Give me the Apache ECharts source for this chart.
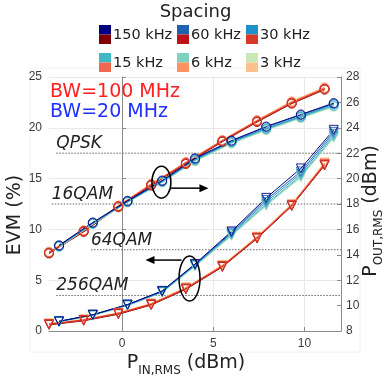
<!DOCTYPE html>
<html><head><meta charset="utf-8">
<script src="https://cdn.jsdelivr.net/npm/echarts@6/dist/echarts.min.js"></script>
<style>html,body{margin:0;padding:0;background:#fff}#c{width:383px;height:377px}</style>
</head><body><div id="c"></div>
<script>
// ---------- data ----------
const spacings = ['150 kHz', '60 kHz', '30 kHz', '15 kHz', '6 kHz', '3 kHz'];
const colors20 = ['#000080', '#2060B0', '#2090C8', '#40B8C8', '#80D0C0', '#C8E8B8'];
const colors100 = ['#7F0000', '#C01018', '#D83828', '#F06850', '#FF9060', '#FFC090'];
const xTicks = [0, 5, 10];

// input power (dBm) of each measured point
const pin100 = [-4.0, -2.1, -0.2, 1.6, 3.5, 5.5, 7.4, 9.3, 11.1];
const pin20 = [-3.45, -1.6, 0.3, 2.2, 4.0, 6.0, 7.9, 9.8, 11.6];

// output power (dBm), BW = 20 MHz, one row per spacing
const pout20_150 = [14.75, 16.55, 18.25, 19.85, 21.6, 23.0, 24.1, 25.05, 25.95];
const pout20_60 = [14.7, 16.5, 18.2, 19.8, 21.55, 22.95, 24.05, 25.0, 25.9];
const pout20_30 = [14.7, 16.5, 18.2, 19.8, 21.5, 22.9, 23.95, 24.9, 25.85];
const pout20_15 = [14.65, 16.45, 18.15, 19.75, 21.45, 22.85, 23.9, 24.85, 25.75];
const pout20_6 = [14.65, 16.45, 18.15, 19.7, 21.4, 22.8, 23.85, 24.8, 25.7];
const pout20_3 = [14.6, 16.4, 18.1, 19.7, 21.35, 22.75, 23.8, 24.75, 25.65];

// output power (dBm), BW = 100 MHz
const pout100_150 = [14.1, 15.8, 17.75, 19.45, 21.15, 22.9, 24.45, 25.9, 27.0];
const pout100_60 = [14.15, 15.85, 17.8, 19.5, 21.2, 22.95, 24.5, 25.95, 27.05];
const pout100_30 = [14.15, 15.85, 17.8, 19.5, 21.2, 22.95, 24.5, 25.95, 27.05];
const pout100_15 = [14.2, 15.9, 17.85, 19.55, 21.25, 23.0, 24.55, 26.0, 27.1];
const pout100_6 = [14.2, 15.9, 17.85, 19.55, 21.3, 23.0, 24.6, 26.05, 27.15];
const pout100_3 = [14.25, 15.95, 17.9, 19.6, 21.3, 23.05, 24.6, 26.1, 27.2];

// EVM (%), BW = 20 MHz
const evm20_150 = [0.95, 1.6, 2.6, 3.95, 6.6, 9.8, 13.1, 16.0, 19.8];
const evm20_60 = [0.95, 1.6, 2.6, 3.9, 6.55, 9.7, 12.9, 15.7, 19.6];
const evm20_30 = [0.95, 1.6, 2.55, 3.85, 6.5, 9.6, 12.7, 15.5, 19.4];
const evm20_15 = [0.9, 1.55, 2.55, 3.85, 6.45, 9.5, 12.5, 15.3, 19.2];
const evm20_6 = [0.9, 1.55, 2.5, 3.8, 6.4, 9.4, 12.4, 15.2, 19.1];
const evm20_3 = [0.9, 1.5, 2.5, 3.8, 6.35, 9.35, 12.3, 15.1, 19.0];

// EVM (%), BW = 100 MHz
const evm100_150 = [0.6, 1.0, 1.65, 2.55, 4.1, 6.3, 9.1, 12.3, 16.3];
const evm100_60 = [0.65, 1.05, 1.7, 2.6, 4.15, 6.35, 9.15, 12.35, 16.35];
const evm100_30 = [0.65, 1.05, 1.72, 2.6, 4.15, 6.37, 9.16, 12.34, 16.37];
const evm100_15 = [0.7, 1.1, 1.75, 2.65, 4.2, 6.4, 9.2, 12.4, 16.45];
const evm100_6 = [0.7, 1.1, 1.75, 2.7, 4.25, 6.45, 9.25, 12.45, 16.5];
const evm100_3 = [0.75, 1.15, 1.8, 2.7, 4.3, 6.5, 9.3, 12.5, 16.6];

// EVM requirement lines
const thresholdNames = ['QPSK', '16QAM', '64QAM', '256QAM'];
const thresholdEVM = [17.5, 12.5, 8, 3.5];
const thresholdStart = [-3.6, -3.85, -1.7, -3.6];
const thresholdEnd = 12;

const pout20 = [pout20_150, pout20_60, pout20_30, pout20_15, pout20_6, pout20_3];
const pout100 = [pout100_150, pout100_60, pout100_30, pout100_15, pout100_6, pout100_3];
const evm20 = [evm20_150, evm20_60, evm20_30, evm20_15, evm20_6, evm20_3];
const evm100 = [evm100_150, evm100_60, evm100_30, evm100_15, evm100_6, evm100_3];

// ---------- chart ----------
const chart = echarts.init(document.getElementById('c'), null, {renderer: 'canvas'});
const zip = (xs, ys) => xs.map((x, i) => [x, ys[i]]);

const series = [];
thresholdNames.forEach((n, i) => {
  series.push({
    type: 'line', name: n, yAxisIndex: 0, silent: true, symbol: 'none',
    data: [[thresholdStart[i], thresholdEVM[i]], [thresholdEnd, thresholdEVM[i]]],
    lineStyle: {color: '#666', width: 1, type: [1.5, 1.5]}, z: 1
  });
});
const order100 = [0, 5, 4, 3, 1, 2];
const order20 = [5, 4, 3, 2, 1, 0];
function addSeries(order, pin, pout, evm, colors, tag) {
  order.forEach(i => {
    const common = {
      type: 'line', symbolSize: 9,
      lineStyle: {color: colors[i], width: 1},
      itemStyle: {color: 'rgba(255,255,255,0)', borderColor: colors[i], borderWidth: 1, opacity: 0.85},
      z: 3
    };
    series.push(Object.assign({}, common, {
      name: spacings[i] + ' ' + tag + ' Pout', yAxisIndex: 1,
      data: zip(pin, pout[i]), symbol: 'circle'
    }));
    series.push(Object.assign({}, common, {
      name: spacings[i] + ' ' + tag + ' EVM', yAxisIndex: 0,
      data: zip(pin, evm[i]), symbol: 'triangle', symbolRotate: 180
    }));
  });
}
addSeries(order100, pin100, pout100, evm100, colors100, '100MHz');
addSeries(order20, pin20, pout20, evm20, colors20, '20MHz');

const axisGray = '#8a8a8a';
const tickFont = {color: '#3a3a3a', fontSize: 12, fontFamily: 'Liberation Sans'};

chart.setOption({
  animation: false,
  backgroundColor: '#fff',
  grid: {left: 49, right: 42, top: 77, bottom: 46, containLabel: false},
  xAxis: {
    type: 'value', min: -4, max: 12,
    axisLine: {show: true, lineStyle: {color: axisGray}},
    axisTick: {show: true, inside: true, length: 4, customValues: xTicks, lineStyle: {color: axisGray}},
    axisLabel: Object.assign({customValues: xTicks, margin: 7}, tickFont),
    splitLine: {show: true, lineStyle: {color: '#e8e8e8'}}
  },
  yAxis: [{
    type: 'value', min: 0, max: 25, interval: 5, position: 'left',
    axisLine: {show: true, lineStyle: {color: axisGray}},
    axisTick: {show: true, inside: true, length: 4, lineStyle: {color: axisGray}},
    axisLabel: Object.assign({margin: 7}, tickFont),
    splitLine: {show: true, lineStyle: {color: '#e8e8e8'}}
  }, {
    type: 'value', min: 8, max: 28, interval: 2, position: 'right',
    axisLine: {show: true, lineStyle: {color: axisGray}},
    axisTick: {show: true, inside: true, length: 4, lineStyle: {color: axisGray}},
    axisLabel: Object.assign({margin: 5}, tickFont),
    splitLine: {show: false}
  }],
  series: series
});

// ---------- annotations ----------
const toL = p => chart.convertToPixel({xAxisIndex: 0, yAxisIndex: 0}, p);
const toR = p => chart.convertToPixel({xAxisIndex: 0, yAxisIndex: 1}, p);
const g = [];
const nameRich = {
  p: {fontSize: 19, fontFamily: 'DejaVu Sans', fill: '#222', verticalAlign: 'bottom', lineHeight: 22},
  s: {fontSize: 12, fontFamily: 'DejaVu Sans', fill: '#222', verticalAlign: 'bottom', lineHeight: 22, padding: [0, 0, -4, 0]}
};
// faint figure frame
g.push({type: 'rect', shape: {x: 30, y: 68, width: 330, height: 284}, style: {fill: 'none', stroke: '#f0f0f0', lineWidth: 1}, z: 0, silent: true});
// axis titles
g.push({type: 'text', x: 15, y: 215, rotation: Math.PI / 2, z: 10,
  style: {text: 'EVM (%)', fill: '#222', font: '19px "DejaVu Sans"', align: 'center', verticalAlign: 'middle'}});
g.push({type: 'text', x: 186, y: 362, z: 10,
  style: {text: '{p|P}{s|IN,RMS}{p| (dBm)}', rich: nameRich, align: 'center', verticalAlign: 'middle'}});
g.push({type: 'text', x: 370, y: 211, rotation: Math.PI / 2, z: 10,
  style: {text: '{p|P}{s|OUT,RMS}{p| (dBm)}', rich: nameRich, align: 'center', verticalAlign: 'middle'}});
// threshold labels
thresholdNames.forEach((n, i) => {
  const p = toL([thresholdStart[i], thresholdEVM[i]]);
  g.push({type: 'text', x: p[0], y: p[1] - 1, z: 10,
    style: {text: n, fill: '#222', font: 'italic 17px "DejaVu Sans"', align: 'left', verticalAlign: 'bottom'}});
});
// BW texts
g.push({type: 'text', x: 50, y: 92, z: 10, style: {text: 'BW=100 MHz', fill: '#FF2020', font: '19px "DejaVu Sans"', verticalAlign: 'middle'}});
g.push({type: 'text', x: 50, y: 112, z: 10, style: {text: 'BW=20 MHz', fill: '#2030FF', font: '19px "DejaVu Sans"', verticalAlign: 'middle'}});
// ellipse + arrow to right axis
const e1 = toR([2.16, 19.72]);
g.push({type: 'ellipse', z: 10, shape: {cx: e1[0], cy: e1[1], rx: 9.5, ry: 16}, style: {fill: 'none', stroke: '#000', lineWidth: 1.5}});
const a1y = e1[1] + 6;
g.push({type: 'line', z: 10, shape: {x1: e1[0] + 9.5, y1: a1y, x2: e1[0] + 40, y2: a1y}, style: {stroke: '#000', lineWidth: 1.5}});
g.push({type: 'polygon', z: 10, shape: {points: [[e1[0] + 47, a1y], [e1[0] + 38, a1y - 4], [e1[0] + 38, a1y + 4]]}, style: {fill: '#000'}});
// ellipse + arrow to left axis
const e2 = toL([3.7, 5.16]);
g.push({type: 'ellipse', z: 10, shape: {cx: e2[0], cy: e2[1], rx: 10.5, ry: 22.5}, style: {fill: 'none', stroke: '#000', lineWidth: 1.5}});
const a2y = e2[1] - 18.5;
g.push({type: 'line', z: 10, shape: {x1: e2[0] - 8, y1: a2y, x2: e2[0] - 36, y2: a2y}, style: {stroke: '#000', lineWidth: 1.5}});
g.push({type: 'polygon', z: 10, shape: {points: [[e2[0] - 44, a2y], [e2[0] - 35, a2y - 4], [e2[0] - 35, a2y + 4]]}, style: {fill: '#000'}});
// legend
g.push({type: 'text', x: 195.5, y: 12, z: 10, style: {text: 'Spacing', fill: '#222', font: '18px "DejaVu Sans"', align: 'center', verticalAlign: 'middle'}});
const colX = [99, 177, 246];
const rowY = [25, 53];
spacings.forEach((s, i) => {
  const x = colX[i % 3], y = rowY[Math.floor(i / 3)];
  g.push({type: 'rect', z: 10, shape: {x: x, y: y, width: 12, height: 9.5}, style: {fill: colors20[i]}});
  g.push({type: 'rect', z: 10, shape: {x: x, y: y + 9.5, width: 12, height: 9.5}, style: {fill: colors100[i]}});
  g.push({type: 'text', z: 10, x: x + 14, y: y + 10, style: {text: s, fill: '#222', font: '14.5px "DejaVu Sans"', verticalAlign: 'middle'}});
});
chart.setOption({graphic: g});
</script>
</body></html>
